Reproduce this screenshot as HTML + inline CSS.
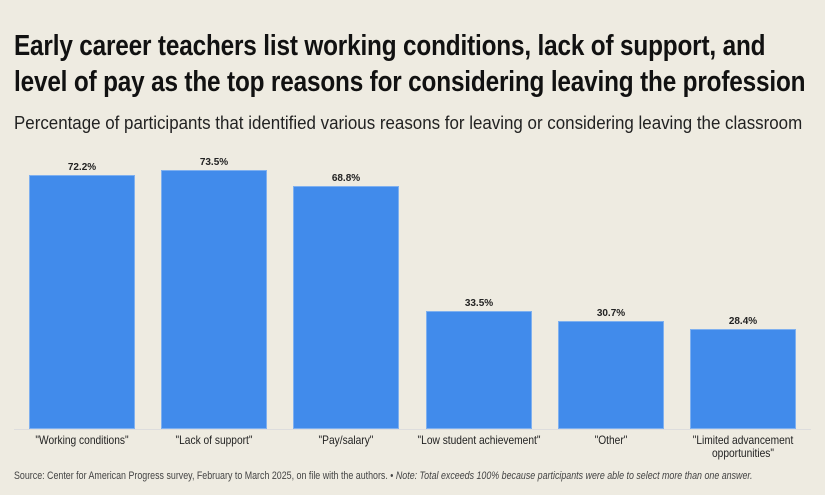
<!DOCTYPE html>
<html><head><style>
body{margin:0;width:825px;height:495px;background:#eeebe1;overflow:hidden;font-family:"Liberation Sans Narrow","Liberation Sans",sans-serif;color:#111;position:relative}
.t{position:absolute;left:14px;top:28px;font-size:29px;font-weight:bold;line-height:36px;white-space:nowrap;transform:scaleX(0.839);transform-origin:left top;letter-spacing:-0.2px}
.s{position:absolute;left:14px;top:113px;font-size:18px;white-space:nowrap;transform:scaleX(0.94);transform-origin:left top;color:#222}
.b{position:absolute;background:#418beb;border:1px solid #7fb0ef;box-sizing:border-box;width:106px}
.v{position:absolute;width:106px;text-align:center;font-size:10px;font-weight:bold;color:#222}
.l{position:absolute;width:160px;text-align:center;font-size:12px;line-height:13px;color:#222;transform:scaleX(0.85);white-space:nowrap}
.f{position:absolute;left:14px;top:470px;font-size:11px;color:#444;white-space:nowrap;transform:scaleX(0.807);transform-origin:left top}
.ax{position:absolute;left:14px;top:429px;width:797px;height:1px;background:#ddd}
</style></head><body>
<div class="t">Early career teachers list working conditions, lack of support, and<br>level of pay as the top reasons for considering leaving the profession</div>
<div class="s">Percentage of participants that identified various reasons for leaving or considering leaving the classroom</div>
<div class="ax"></div>
<div class="b" style="left:29px;top:175px;height:254px"></div><div class="v" style="left:29px;top:162px">72.2%</div>
<div class="b" style="left:161px;top:170px;height:259px"></div><div class="v" style="left:161px;top:157px">73.5%</div>
<div class="b" style="left:293px;top:186px;height:243px"></div><div class="v" style="left:293px;top:173px">68.8%</div>
<div class="b" style="left:426px;top:311px;height:118px"></div><div class="v" style="left:426px;top:298px">33.5%</div>
<div class="b" style="left:558px;top:321px;height:108px"></div><div class="v" style="left:558px;top:308px">30.7%</div>
<div class="b" style="left:690px;top:329px;height:100px"></div><div class="v" style="left:690px;top:316px">28.4%</div>
<div class="l" style="left:2px;top:434px">"Working conditions"</div>
<div class="l" style="left:134px;top:434px">"Lack of support"</div>
<div class="l" style="left:266px;top:434px">"Pay/salary"</div>
<div class="l" style="left:399px;top:434px">"Low student achievement"</div>
<div class="l" style="left:531px;top:434px">"Other"</div>
<div class="l" style="left:663px;top:434px">"Limited advancement<br>opportunities"</div>
<div class="f">Source: Center for American Progress survey, February to March 2025, on file with the authors. • <i>Note: Total exceeds 100% because participants were able to select more than one answer.</i></div>
</body></html>
